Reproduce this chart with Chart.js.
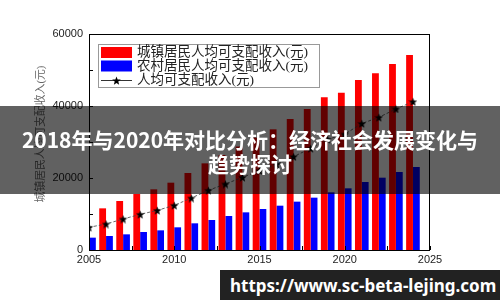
<!DOCTYPE html>
<html>
<head>
<meta charset="utf-8">
<script src="https://cdn.jsdelivr.net/npm/chart.js@4.4.1/dist/chart.umd.min.js"></script>
<style>
    body { margin: 0; background: #fff; }
    #wrap { position: relative; width: 500px; height: 300px; overflow: hidden; }
    #banner {
        position: absolute; left: 0; top: 106px; width: 500px; height: 88px;
        background: rgba(0, 0, 0, 0.62);
        color: #fff; font-family: "Noto Sans CJK SC", sans-serif; font-weight: bold;
        font-size: 21px; line-height: 24px; text-align: center; white-space: nowrap;
        box-sizing: border-box; padding-top: 21px;
    }
    #marca {
        position: absolute; left: 220px; top: 270px; width: 280px; height: 30px;
        background: #222; color: #fff; font-family: "Noto Sans", sans-serif;
        font-weight: bold; font-size: 17px; line-height: 32px; padding-left: 10px;
        box-sizing: border-box; white-space: nowrap;
    }
</style>
</head>
<body>
<div id="wrap">
    <canvas id="rendaChart" width="500" height="300"></canvas>
    <div id="banner">2018年与2020年对比分析：经济社会发展变化与<br>趋势探讨</div>
    <div id="marca">https://www.sc-beta-lejing.com</div>
</div>
<script>
const anos = [2005, 2006, 2007, 2008, 2009, 2010, 2011, 2012, 2013, 2014,
              2015, 2016, 2017, 2018, 2019, 2020, 2021, 2022, 2023, 2024];
const rendaUrbana = [null, 11570, 13610, 15560, 16850, 18700, 21390, 24070, 26400, 28750,
                     31200, 33520, 36390, 39170, 42400, 43700, 47200, 49100, 51700, 54170];
const rendaRural = [3430, 3890, 4350, 5000, 5460, 6300, 7410, 8330, 9440, 10460,
                    11390, 12310, 13430, 14540, 16020, 17130, 18890, 20090, 21670, 23060];
const rendaMedia = [6300, 7220, 8610, 9900, 11000, 12400, 14440, 16570, 18330, 20180,
                    22040, 23820, 25930, 28240, 30730, 32190, 35130, 36850, 39170, 41200];
const rotulos = ['城镇居民人均可支配收入(元)', '农村居民人均可支配收入(元)', '人均可支配收入(元)'];
const tituloY = '城镇居民人均可支配收入(元)';

// estrela preenchida para os pontos da linha
function criarEstrela(tam) {
    const c = document.createElement('canvas');
    c.width = tam; c.height = tam;
    const g = c.getContext('2d');
    const r = tam / 2, ri = r * 0.42;
    g.beginPath();
    for (let i = 0; i < 10; i++) {
        const rad = i % 2 === 0 ? r : ri;
        const ang = -Math.PI / 2 + i * Math.PI / 5;
        const px = r + rad * Math.cos(ang), py = r + rad * Math.sin(ang) + 0.5;
        if (i === 0) g.moveTo(px, py); else g.lineTo(px, py);
    }
    g.closePath();
    g.fillStyle = '#000';
    g.fill();
    return c;
}
const estrela = criarEstrela(9);

const fonteEixo = { family: '"Liberation Sans", Arial, sans-serif', size: 11 };

// caixa, marcas internas, titulo do eixo e legenda estilo matlab
const molduraPlugin = {
    id: 'moldura',
    afterDatasetsDraw(chart) {
        const { ctx, chartArea: a, scales } = chart;
        ctx.save();
        ctx.strokeStyle = '#000';
        ctx.lineWidth = 1;
        ctx.strokeRect(a.left + 0.5, a.top + 0.5, a.right - a.left - 1, a.bottom - a.top);
        ctx.beginPath();
        scales.y.ticks.forEach((t, i) => {
            const y = Math.round(scales.y.getPixelForTick(i)) + 0.5;
            ctx.moveTo(a.left, y); ctx.lineTo(a.left + 4, y);
        });
        scales.x.ticks.forEach((t, i) => {
            const x = Math.round(scales.x.getPixelForTick(i)) + 0.5;
            ctx.moveTo(x, a.bottom); ctx.lineTo(x, a.bottom - 4);
        });
        ctx.stroke();

        // titulo do eixo y
        ctx.save();
        ctx.translate(41, 134);
        ctx.rotate(-Math.PI / 2);
        ctx.fillStyle = '#666';
        ctx.font = '10.8px "Liberation Serif", "Noto Sans CJK SC", serif';
        ctx.textAlign = 'center';
        ctx.textBaseline = 'middle';
        ctx.fillText(tituloY, 0, 0);
        ctx.restore();

        // legenda
        const lx = 98, ly = 44, lw = 221, lh = 43;
        ctx.fillStyle = '#fff';
        ctx.fillRect(lx, ly, lw, lh);
        ctx.strokeStyle = '#999';
        ctx.strokeRect(lx + 0.5, ly + 0.5, lw, lh);
        const linhas = [52, 66, 80.5];
        ctx.fillStyle = '#ff0000';
        ctx.fillRect(101, 47, 31, 11);
        ctx.fillStyle = '#0000ff';
        ctx.fillRect(101, 60.5, 31, 11);
        ctx.strokeStyle = '#333';
        ctx.beginPath();
        ctx.moveTo(101, 80.5); ctx.lineTo(132, 80.5);
        ctx.stroke();
        ctx.drawImage(estrela, 112, 76);
        ctx.fillStyle = '#222';
        ctx.font = '13.5px "Liberation Serif", "Noto Sans CJK SC", serif';
        ctx.textBaseline = 'middle';
        ctx.textAlign = 'left';
        chart.data.datasets.forEach((ds, i) => {
            ctx.fillText(ds.label, 137, linhas[i]);
        });
        ctx.restore();
    }
};

const ctx = document.getElementById('rendaChart').getContext('2d');
new Chart(ctx, {
    data: {
        datasets: [
            {
                type: 'bar',
                label: rotulos[0],
                data: anos.map((a, i) => ({ x: a, y: rendaUrbana[i] })),
                backgroundColor: '#ff0000',
                categoryPercentage: 0.8,
                barPercentage: 1.0,
                order: 2
            },
            {
                type: 'bar',
                label: rotulos[1],
                data: anos.map((a, i) => ({ x: a, y: rendaRural[i] })),
                backgroundColor: '#0000ff',
                categoryPercentage: 0.8,
                barPercentage: 1.0,
                order: 2
            },
            {
                type: 'line',
                label: rotulos[2],
                data: anos.map((a, i) => ({ x: a, y: rendaMedia[i] })),
                borderColor: '#444',
                borderWidth: 0.8,
                borderDash: [3, 2],
                pointStyle: estrela,
                pointRadius: 4,
                order: 1
            }
        ]
    },
    options: {
        responsive: false,
        animation: false,
        layout: { padding: { left: 0, top: 34, right: 70, bottom: 0 } },
        plugins: {
            legend: { display: false },
            tooltip: { enabled: false }
        },
        scales: {
            x: {
                type: 'linear',
                min: 2005,
                max: 2025,
                offset: false,
                grid: { display: false, drawTicks: false },
                border: { display: false },
                ticks: {
                    stepSize: 2.5,
                    autoSkip: false,
                    maxRotation: 0,
                    padding: 3,
                    color: '#222',
                    font: fonteEixo,
                    callback: v => (v % 5 === 0 ? String(v) : '')
                },
                afterFit(scale) { scale.height = 50; }
            },
            y: {
                min: 0,
                max: 60000,
                grid: { display: false, drawTicks: false },
                border: { display: false },
                ticks: {
                    stepSize: 10000,
                    padding: 6,
                    color: '#222',
                    font: fonteEixo,
                    callback: v => (v % 20000 === 0 ? String(v) : '')
                },
                afterFit(scale) { scale.width = 89; }
            }
        }
    },
    plugins: [molduraPlugin]
});
</script>
</body>
</html>
